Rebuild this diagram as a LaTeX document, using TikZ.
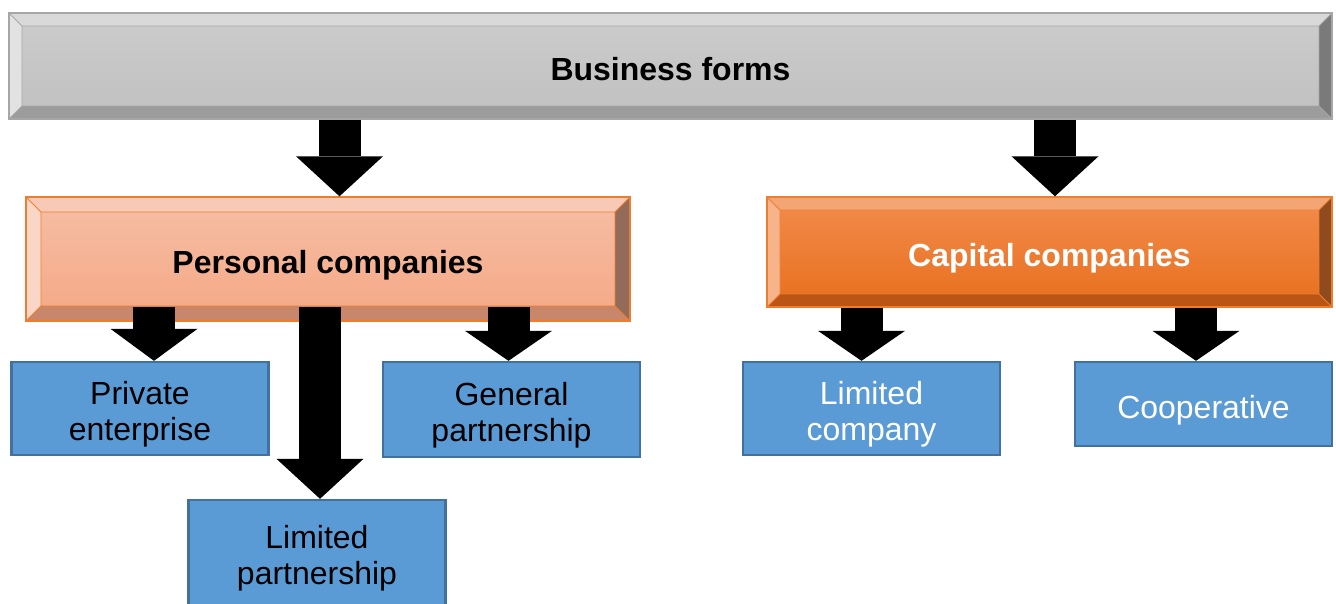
\documentclass[tikz,border=0pt]{standalone}
\usepackage{fontspec}
\setmainfont{Liberation Sans}
\usetikzlibrary{arrows.meta,positioning,calc}

\definecolor{grayLine}{HTML}{A6A6A6}
\definecolor{grayFaceA}{HTML}{CCCCCC}
\definecolor{grayFaceB}{HTML}{C0C0C0}
\definecolor{grayTop}{HTML}{D9D9D9}
\definecolor{grayLeft}{HTML}{E2E2E2}
\definecolor{grayBot}{HTML}{9C9C9C}
\definecolor{grayRight}{HTML}{7A7A7A}
\definecolor{orangeLine}{HTML}{ED7D31}
\definecolor{peachFaceA}{HTML}{F6BEA5}
\definecolor{peachFaceB}{HTML}{F4A885}
\definecolor{peachTop}{HTML}{F8CAB5}
\definecolor{peachLeft}{HTML}{FAD6C6}
\definecolor{peachBot}{HTML}{C8876A}
\definecolor{peachRight}{HTML}{936B5A}
\definecolor{capFaceA}{HTML}{F28C4C}
\definecolor{capFaceM}{HTML}{F47D2A}
\definecolor{capFaceB}{HTML}{E86F1E}
\definecolor{capTop}{HTML}{F4A574}
\definecolor{capLeft}{HTML}{F7B48A}
\definecolor{capBot}{HTML}{BB5516}
\definecolor{capRight}{HTML}{8F4A1E}
\definecolor{leafFill}{HTML}{5B9BD5}
\definecolor{leafLine}{HTML}{41719C}

\begin{document}
\begin{tikzpicture}[
    bevel/.style n args={6}{path picture={
        \path (path picture bounding box.north west) coordinate (bNW)
              (path picture bounding box.north east) coordinate (bNE)
              (path picture bounding box.south west) coordinate (bSW)
              (path picture bounding box.south east) coordinate (bSE);
        \path ($(bNW)+(#1,-#1)$) coordinate (iNW) ($(bNE)+(-#1,-#1)$) coordinate (iNE)
              ($(bSW)+(#1,#1)$) coordinate (iSW) ($(bSE)+(-#1,#1)$) coordinate (iSE);
        \fill[#2] (bNW) -- (bNE) -- (iNE) -- (iNW) -- cycle;
        \fill[#3] (bNW) -- (iNW) -- (iSW) -- (bSW) -- cycle;
        \fill[#4] (bSW) -- (iSW) -- (iSE) -- (bSE) -- cycle;
        \fill[#5] (bNE) -- (bSE) -- (iSE) -- (iNE) -- cycle;
        \draw[#6, line width=0.8pt] (bNW) -- (iNW) (bNE) -- (iNE) (bSW) -- (iSW) (bSE) -- (iSE) (iNW) rectangle (iSE);
    }},
    oneline/.style={text height=24pt, text depth=0pt},
    twoline/.style={text height=54.6pt, text depth=0pt},
    banner/.style={oneline, line width=1.2pt, align=center, inner sep=0pt, font=\fontsize{27.3}{30.7}\selectfont\bfseries},
    leaf/.style={twoline, draw=leafLine, line width=2pt, fill=leafFill, minimum width=7.71cm, align=center, inner sep=0pt, font=\fontsize{27.3}{30.7}\selectfont},
    blockarrow/.style={line width=1.26cm, draw=black, -{Triangle[width=2.61cm, length=#1, line width=0pt]}},
    blockarrow/.default=0.9cm,
]
\useasboundingbox (0,0) rectangle (40.08,-18.09);

% Top banner
\node[banner, draw=grayLine, top color=grayFaceA, bottom color=grayFaceB,
      bevel={0.39cm}{grayTop}{grayLeft}{grayBot}{grayRight}{grayLine},
      minimum width=39.69cm, minimum height=3.18cm] (forms) at (20.115,-1.98) {Business forms};

% Second level
\node[banner, draw=orangeLine, top color=peachFaceA, bottom color=peachFaceB,
      bevel={0.45cm}{peachTop}{peachLeft}{peachBot}{peachRight}{orangeLine},
      minimum width=18.12cm, minimum height=3.72cm] (personal) at (9.84,-7.77) {Personal companies};
\node[banner, draw=orangeLine, text=white, top color=capFaceA, middle color=capFaceM, bottom color=capFaceB,
      bevel={0.39cm}{capTop}{capLeft}{capBot}{capRight}{orangeLine},
      minimum width=16.95cm, minimum height=3.30cm] (capital) at (31.485,-7.56) {Capital companies};

% Leaves
\node[leaf, minimum height=2.79cm] (private) at (4.2,-12.255) {Private\\enterprise};
\node[leaf, minimum height=2.85cm] (general) at (15.345,-12.285) {General\\partnership};
\node[leaf, minimum height=3.15cm] (limpart) at (9.51,-16.575) {Limited\\partnership};
\node[leaf, text=white, minimum height=2.79cm] (limcomp) at (26.145,-12.255) {Limited\\company};
\node[leaf, oneline, text=white, minimum height=2.52cm] (coop) at (36.105,-12.12) {Cooperative};

% Arrows
\coordinate (pbase) at ([yshift=0.45cm]personal.south);
\draw[blockarrow=1.2cm] (forms.south -| 10.185,0) -- (personal.north -| 10.185,0);
\draw[blockarrow=1.2cm] (forms.south -| 31.65,0) -- (capital.north -| 31.65,0);
\draw[blockarrow=0.96cm] (pbase -| 4.62,0) -- (private.north -| 4.62,0);
\draw[blockarrow=1.2cm] (pbase -| 9.6,0) -- (limpart.north -| 9.6,0);
\draw[blockarrow] (pbase -| 15.255,0) -- (general.north -| 15.255,0);
\draw[blockarrow] (capital.south -| 25.845,0) -- (limcomp.north -| 25.845,0);
\draw[blockarrow] (capital.south -| 35.88,0) -- (coop.north -| 35.88,0);

\end{tikzpicture}
\end{document}
